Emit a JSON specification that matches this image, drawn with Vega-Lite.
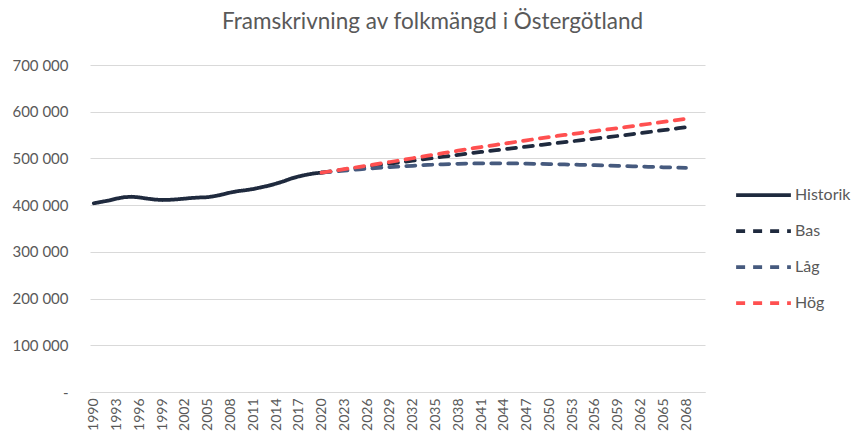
{
  "$schema": "https://vega.github.io/schema/vega-lite/v6.json",
  "width": 615,
  "height": 327,
  "autosize": "none",
  "padding": {"left": 90, "top": 65, "right": 150, "bottom": 49},
  "background": "white",
  "title": {"text": "Framskrivning av folkmängd i Östergötland", "font": "Lato", "fontSize": 22.5, "fontWeight": "normal", "color": "#595959", "anchor": "middle", "dx": 35, "offset": 25},
  "config": {
    "view": {"stroke": null},
    "locale": {"number": {"decimal": ",", "thousands": " ", "grouping": [3], "currency": ["", " kr"]}},
    "legend": {"orient": "none", "legendX": 644, "legendY": 120, "symbolType": "stroke", "symbolSize": 3000, "symbolStrokeWidth": 3.75, "labelFont": "Lato", "labelFontSize": 16, "labelColor": "#595959", "clipHeight": 20, "rowPadding": 16, "labelOffset": 2, "title": null}
  },
  "data": {"values": [
    {"year": 1990, "series": "Historik", "value": 404000},
    {"year": 1991, "series": "Historik", "value": 407000},
    {"year": 1992, "series": "Historik", "value": 410000},
    {"year": 1993, "series": "Historik", "value": 414000},
    {"year": 1994, "series": "Historik", "value": 417000},
    {"year": 1995, "series": "Historik", "value": 418000},
    {"year": 1996, "series": "Historik", "value": 416500},
    {"year": 1997, "series": "Historik", "value": 414000},
    {"year": 1998, "series": "Historik", "value": 412000},
    {"year": 1999, "series": "Historik", "value": 411000},
    {"year": 2000, "series": "Historik", "value": 411500},
    {"year": 2001, "series": "Historik", "value": 412500},
    {"year": 2002, "series": "Historik", "value": 414000},
    {"year": 2003, "series": "Historik", "value": 415500},
    {"year": 2004, "series": "Historik", "value": 416500},
    {"year": 2005, "series": "Historik", "value": 417000},
    {"year": 2006, "series": "Historik", "value": 419500},
    {"year": 2007, "series": "Historik", "value": 423000},
    {"year": 2008, "series": "Historik", "value": 427000},
    {"year": 2009, "series": "Historik", "value": 430000},
    {"year": 2010, "series": "Historik", "value": 432000},
    {"year": 2011, "series": "Historik", "value": 434500},
    {"year": 2012, "series": "Historik", "value": 438000},
    {"year": 2013, "series": "Historik", "value": 441500},
    {"year": 2014, "series": "Historik", "value": 446000},
    {"year": 2015, "series": "Historik", "value": 451000},
    {"year": 2016, "series": "Historik", "value": 457000},
    {"year": 2017, "series": "Historik", "value": 461500},
    {"year": 2018, "series": "Historik", "value": 465000},
    {"year": 2019, "series": "Historik", "value": 468000},
    {"year": 2020, "series": "Historik", "value": 469500},
    {"year": 2020, "series": "Bas", "value": 469500},
    {"year": 2021, "series": "Bas", "value": 471800},
    {"year": 2022, "series": "Bas", "value": 474000},
    {"year": 2023, "series": "Bas", "value": 476200},
    {"year": 2024, "series": "Bas", "value": 478400},
    {"year": 2025, "series": "Bas", "value": 480500},
    {"year": 2026, "series": "Bas", "value": 482700},
    {"year": 2027, "series": "Bas", "value": 484800},
    {"year": 2028, "series": "Bas", "value": 486900},
    {"year": 2029, "series": "Bas", "value": 489000},
    {"year": 2030, "series": "Bas", "value": 491000},
    {"year": 2031, "series": "Bas", "value": 493100},
    {"year": 2032, "series": "Bas", "value": 495200},
    {"year": 2033, "series": "Bas", "value": 497300},
    {"year": 2034, "series": "Bas", "value": 499400},
    {"year": 2035, "series": "Bas", "value": 501500},
    {"year": 2036, "series": "Bas", "value": 503600},
    {"year": 2037, "series": "Bas", "value": 505700},
    {"year": 2038, "series": "Bas", "value": 507800},
    {"year": 2039, "series": "Bas", "value": 509900},
    {"year": 2040, "series": "Bas", "value": 512000},
    {"year": 2041, "series": "Bas", "value": 513900},
    {"year": 2042, "series": "Bas", "value": 515800},
    {"year": 2043, "series": "Bas", "value": 517700},
    {"year": 2044, "series": "Bas", "value": 519600},
    {"year": 2045, "series": "Bas", "value": 521500},
    {"year": 2046, "series": "Bas", "value": 523400},
    {"year": 2047, "series": "Bas", "value": 525300},
    {"year": 2048, "series": "Bas", "value": 527200},
    {"year": 2049, "series": "Bas", "value": 529100},
    {"year": 2050, "series": "Bas", "value": 531000},
    {"year": 2051, "series": "Bas", "value": 532900},
    {"year": 2052, "series": "Bas", "value": 534800},
    {"year": 2053, "series": "Bas", "value": 536700},
    {"year": 2054, "series": "Bas", "value": 538600},
    {"year": 2055, "series": "Bas", "value": 540500},
    {"year": 2056, "series": "Bas", "value": 542400},
    {"year": 2057, "series": "Bas", "value": 544300},
    {"year": 2058, "series": "Bas", "value": 546200},
    {"year": 2059, "series": "Bas", "value": 548100},
    {"year": 2060, "series": "Bas", "value": 550000},
    {"year": 2061, "series": "Bas", "value": 552100},
    {"year": 2062, "series": "Bas", "value": 554200},
    {"year": 2063, "series": "Bas", "value": 556300},
    {"year": 2064, "series": "Bas", "value": 558400},
    {"year": 2065, "series": "Bas", "value": 560500},
    {"year": 2066, "series": "Bas", "value": 562600},
    {"year": 2067, "series": "Bas", "value": 564700},
    {"year": 2068, "series": "Bas", "value": 566800},
    {"year": 2020, "series": "Låg", "value": 469500},
    {"year": 2021, "series": "Låg", "value": 471000},
    {"year": 2022, "series": "Låg", "value": 472500},
    {"year": 2023, "series": "Låg", "value": 474000},
    {"year": 2024, "series": "Låg", "value": 475400},
    {"year": 2025, "series": "Låg", "value": 476800},
    {"year": 2026, "series": "Låg", "value": 478100},
    {"year": 2027, "series": "Låg", "value": 479300},
    {"year": 2028, "series": "Låg", "value": 480400},
    {"year": 2029, "series": "Låg", "value": 481400},
    {"year": 2030, "series": "Låg", "value": 482400},
    {"year": 2031, "series": "Låg", "value": 483400},
    {"year": 2032, "series": "Låg", "value": 484300},
    {"year": 2033, "series": "Låg", "value": 485200},
    {"year": 2034, "series": "Låg", "value": 486000},
    {"year": 2035, "series": "Låg", "value": 486800},
    {"year": 2036, "series": "Låg", "value": 487500},
    {"year": 2037, "series": "Låg", "value": 488100},
    {"year": 2038, "series": "Låg", "value": 488600},
    {"year": 2039, "series": "Låg", "value": 489000},
    {"year": 2040, "series": "Låg", "value": 489300},
    {"year": 2041, "series": "Låg", "value": 489500},
    {"year": 2042, "series": "Låg", "value": 489600},
    {"year": 2043, "series": "Låg", "value": 489600},
    {"year": 2044, "series": "Låg", "value": 489500},
    {"year": 2045, "series": "Låg", "value": 489300},
    {"year": 2046, "series": "Låg", "value": 489100},
    {"year": 2047, "series": "Låg", "value": 488800},
    {"year": 2048, "series": "Låg", "value": 488500},
    {"year": 2049, "series": "Låg", "value": 488200},
    {"year": 2050, "series": "Låg", "value": 487900},
    {"year": 2051, "series": "Låg", "value": 487500},
    {"year": 2052, "series": "Låg", "value": 487100},
    {"year": 2053, "series": "Låg", "value": 486700},
    {"year": 2054, "series": "Låg", "value": 486300},
    {"year": 2055, "series": "Låg", "value": 485900},
    {"year": 2056, "series": "Låg", "value": 485400},
    {"year": 2057, "series": "Låg", "value": 485000},
    {"year": 2058, "series": "Låg", "value": 484500},
    {"year": 2059, "series": "Låg", "value": 484000},
    {"year": 2060, "series": "Låg", "value": 483600},
    {"year": 2061, "series": "Låg", "value": 483100},
    {"year": 2062, "series": "Låg", "value": 482600},
    {"year": 2063, "series": "Låg", "value": 482100},
    {"year": 2064, "series": "Låg", "value": 481600},
    {"year": 2065, "series": "Låg", "value": 481100},
    {"year": 2066, "series": "Låg", "value": 480600},
    {"year": 2067, "series": "Låg", "value": 480100},
    {"year": 2068, "series": "Låg", "value": 479600},
    {"year": 2020, "series": "Hög", "value": 469500},
    {"year": 2021, "series": "Hög", "value": 472000},
    {"year": 2022, "series": "Hög", "value": 474500},
    {"year": 2023, "series": "Hög", "value": 477000},
    {"year": 2024, "series": "Hög", "value": 479500},
    {"year": 2025, "series": "Hög", "value": 482000},
    {"year": 2026, "series": "Hög", "value": 484600},
    {"year": 2027, "series": "Hög", "value": 487200},
    {"year": 2028, "series": "Hög", "value": 489800},
    {"year": 2029, "series": "Hög", "value": 492400},
    {"year": 2030, "series": "Hög", "value": 495000},
    {"year": 2031, "series": "Hög", "value": 497700},
    {"year": 2032, "series": "Hög", "value": 500400},
    {"year": 2033, "series": "Hög", "value": 503100},
    {"year": 2034, "series": "Hög", "value": 505800},
    {"year": 2035, "series": "Hög", "value": 508500},
    {"year": 2036, "series": "Hög", "value": 511200},
    {"year": 2037, "series": "Hög", "value": 513900},
    {"year": 2038, "series": "Hög", "value": 516600},
    {"year": 2039, "series": "Hög", "value": 519300},
    {"year": 2040, "series": "Hög", "value": 522000},
    {"year": 2041, "series": "Hög", "value": 524400},
    {"year": 2042, "series": "Hög", "value": 526800},
    {"year": 2043, "series": "Hög", "value": 529200},
    {"year": 2044, "series": "Hög", "value": 531600},
    {"year": 2045, "series": "Hög", "value": 534000},
    {"year": 2046, "series": "Hög", "value": 536400},
    {"year": 2047, "series": "Hög", "value": 538800},
    {"year": 2048, "series": "Hög", "value": 541200},
    {"year": 2049, "series": "Hög", "value": 543600},
    {"year": 2050, "series": "Hög", "value": 546000},
    {"year": 2051, "series": "Hög", "value": 548100},
    {"year": 2052, "series": "Hög", "value": 550200},
    {"year": 2053, "series": "Hög", "value": 552300},
    {"year": 2054, "series": "Hög", "value": 554400},
    {"year": 2055, "series": "Hög", "value": 556500},
    {"year": 2056, "series": "Hög", "value": 558600},
    {"year": 2057, "series": "Hög", "value": 560700},
    {"year": 2058, "series": "Hög", "value": 562800},
    {"year": 2059, "series": "Hög", "value": 564900},
    {"year": 2060, "series": "Hög", "value": 567000},
    {"year": 2061, "series": "Hög", "value": 569200},
    {"year": 2062, "series": "Hög", "value": 571500},
    {"year": 2063, "series": "Hög", "value": 573700},
    {"year": 2064, "series": "Hög", "value": 576000},
    {"year": 2065, "series": "Hög", "value": 578200},
    {"year": 2066, "series": "Hög", "value": 580500},
    {"year": 2067, "series": "Hög", "value": 582700},
    {"year": 2068, "series": "Hög", "value": 585000}
  ]},
  "mark": {"type": "line", "strokeWidth": 3.75, "strokeCap": "round", "strokeJoin": "round"},
  "encoding": {
    "x": {
      "field": "year", "type": "ordinal",
      "scale": {"domain": [1990,1991,1992,1993,1994,1995,1996,1997,1998,1999,2000,2001,2002,2003,2004,2005,2006,2007,2008,2009,2010,2011,2012,2013,2014,2015,2016,2017,2018,2019,2020,2021,2022,2023,2024,2025,2026,2027,2028,2029,2030,2031,2032,2033,2034,2035,2036,2037,2038,2039,2040,2041,2042,2043,2044,2045,2046,2047,2048,2049,2050,2051,2052,2053,2054,2055,2056,2057,2058,2059,2060,2061,2062,2063,2064,2065,2066,2067,2068,2069,2070]},
      "axis": {"values": [1990,1993,1996,1999,2002,2005,2008,2011,2014,2017,2020,2023,2026,2029,2032,2035,2038,2041,2044,2047,2050,2053,2056,2059,2062,2065,2068], "labelAngle": -90, "title": null, "ticks": false, "grid": false, "domainColor": "#d9d9d9", "domainWidth": 1, "labelFont": "Lato", "labelFontSize": 14, "labelColor": "#595959", "labelPadding": 6}
    },
    "y": {
      "field": "value", "type": "quantitative",
      "scale": {"domain": [0, 700000]},
      "axis": {"values": [0,100000,200000,300000,400000,500000,600000,700000], "format": ",d", "labelExpr": "datum.value === 0 ? '-\u00a0\u00a0' : datum.label", "title": null, "ticks": false, "domain": false, "gridColor": "#d9d9d9", "gridWidth": 1, "labelFont": "Lato", "labelFontSize": 15, "labelColor": "#595959", "labelPadding": 22}
    },
    "color": {"field": "series", "type": "nominal", "scale": {"domain": ["Historik", "Bas", "Låg", "Hög"], "range": ["#1F2A3E", "#1F2A3E", "#465A7E", "#FF5050"]}},
    "strokeDash": {"field": "series", "type": "nominal", "scale": {"domain": ["Historik", "Bas", "Låg", "Hög"], "range": [[1, 0], [9, 8], [9, 8], [9, 8]]}}
  }
}
